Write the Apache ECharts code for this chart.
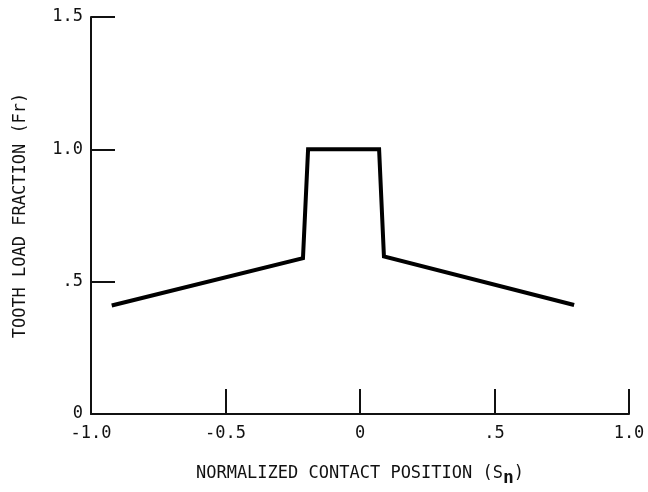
<!DOCTYPE html>
<html>
<head>
<meta charset="utf-8">
<script src="https://cdn.jsdelivr.net/npm/echarts@6/dist/echarts.min.js"></script>
<style>
  html, body { margin: 0; padding: 0; background: #fff; }
  #grafico { width: 648px; height: 492px; }
</style>
</head>
<body>
<div id="grafico"></div>
<script>
// contact position (Sn) and load fraction (Fr)
const posicion = [-0.923, -0.212, -0.193, 0.071, 0.089, 0.796];
const fraccion = [0.41, 0.589, 1.0, 1.0, 0.595, 0.412];

// tick labels as printed
const etiquetasX = { "-1": "-1.0", "-0.5": "-0.5", "0": "0", "0.5": ".5", "1": "1.0" };
const etiquetasY = { "0": "0", "0.5": ".5", "1": "1.0", "1.5": "1.5" };

const fuente = "DejaVu Sans Mono";

const puntos = posicion.map(function(x, i) {
    return [x, fraccion[i]];
});

const grafico = echarts.init(document.getElementById("grafico"));
grafico.setOption({
    animation: false,
    grid: { left: 91, right: 19, top: 17, bottom: 64 },
    xAxis: {
        type: "value",
        min: -1,
        max: 1,
        interval: 0.5,
        name: "{a|NORMALIZED CONTACT POSITION (S}{b|n}{a|)}",
        nameLocation: "middle",
        nameGap: 46,
        nameTextStyle: {
            rich: {
                a: { fontFamily: fuente, fontSize: 17, color: "#111" },
                b: { fontFamily: fuente, fontSize: 18, fontWeight: "bold", color: "#111", padding: [9, 0, 0, 0] }
            }
        },
        axisLine: { onZero: false, lineStyle: { color: "#111", width: 2 } },
        axisTick: { inside: true, length: 25, lineStyle: { color: "#111", width: 2 } },
        axisLabel: {
            fontFamily: fuente,
            fontSize: 17,
            color: "#111",
            margin: 11,
            formatter: function(v) { return etiquetasX[String(v)]; }
        },
        splitLine: { show: false }
    },
    yAxis: {
        type: "value",
        min: 0,
        max: 1.5,
        interval: 0.5,
        name: "TOOTH LOAD FRACTION (Fr)",
        nameLocation: "middle",
        nameGap: 62,
        nameTextStyle: { fontFamily: fuente, fontSize: 17, color: "#111" },
        axisLine: { show: true, onZero: false, lineStyle: { color: "#111", width: 2 } },
        axisTick: { show: true, inside: true, length: 24, lineStyle: { color: "#111", width: 2 } },
        axisLabel: {
            fontFamily: fuente,
            fontSize: 17,
            color: "#111",
            margin: 8,
            formatter: function(v) { return etiquetasY[String(v)]; }
        },
        splitLine: { show: false }
    },
    series: [{
        type: "line",
        data: puntos,
        symbol: "none",
        lineStyle: { color: "#000", width: 4, join: "miter" }
    }]
});
</script>
</body>
</html>
